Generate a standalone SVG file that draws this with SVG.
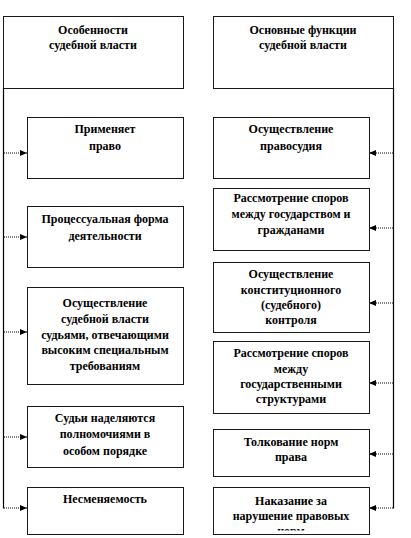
<svg xmlns="http://www.w3.org/2000/svg" width="411" height="538" viewBox="0 0 411 538">
<style>
.box{fill:#fff;stroke:#1a1a1a;stroke-width:1}
.t{font-family:'Liberation Serif','Times New Roman','DejaVu Serif',serif;font-weight:700;font-size:12px;fill:#000;text-anchor:middle}
.trunk{stroke:#000;stroke-width:1.2;fill:none}
.con{stroke:#000;stroke-width:1;stroke-dasharray:1,1;fill:none}
</style>
<defs>
<marker id="ah" markerWidth="8" markerHeight="6" refX="7" refY="3" orient="auto" markerUnits="userSpaceOnUse">
<path d="M0,0 L7,3 L0,6 Z" fill="#000"/>
</marker>
<clipPath id="clip6"><rect x="213" y="487" width="156" height="43.5"/></clipPath>
</defs>
<rect width="411" height="538" fill="#fff"/>

<g id="connectors">
<path class="trunk" d="M3.5,88 V508.5"/>
<path class="trunk" d="M393.5,88 V508.5"/>
<line class="con" x1="4" y1="153" x2="27" y2="153" marker-end="url(#ah)"/>
<line class="con" x1="4" y1="237" x2="27" y2="237" marker-end="url(#ah)"/>
<line class="con" x1="4" y1="332" x2="27" y2="332" marker-end="url(#ah)"/>
<line class="con" x1="4" y1="437" x2="27" y2="437" marker-end="url(#ah)"/>
<line class="con" x1="4" y1="508" x2="27" y2="508" marker-end="url(#ah)"/>
<line class="con" x1="393" y1="153" x2="369" y2="153" marker-end="url(#ah)"/>
<line class="con" x1="393" y1="228" x2="369" y2="228" marker-end="url(#ah)"/>
<line class="con" x1="393" y1="303" x2="369" y2="303" marker-end="url(#ah)"/>
<line class="con" x1="393" y1="383" x2="369" y2="383" marker-end="url(#ah)"/>
<line class="con" x1="393" y1="454" x2="369" y2="454" marker-end="url(#ah)"/>
<line class="con" x1="393" y1="508" x2="369" y2="508" marker-end="url(#ah)"/>
</g>

<g id="hdr-left">
<rect class="box" x="3.5" y="16.5" width="180" height="72"/>
<text class="t" x="93" y="34">Особенности</text>
<text class="t" x="93" y="49">судебной власти</text>
</g>
<g id="hdr-right">
<rect class="box" x="213.5" y="16.5" width="180" height="72"/>
<text class="t" x="303" y="34">Основные функции</text>
<text class="t" x="303" y="49">судебной власти</text>
</g>

<g id="l1">
<rect class="box" x="27.5" y="117.5" width="156" height="61"/>
<text class="t" x="105" y="133">Применяет</text>
<text class="t" x="105" y="150">право</text>
</g>
<g id="l2">
<rect class="box" x="27.5" y="206.5" width="156" height="61"/>
<text class="t" x="105" y="223">Процессуальная форма</text>
<text class="t" x="105" y="240">деятельности</text>
</g>
<g id="l3">
<rect class="box" x="27.5" y="287.5" width="156" height="97"/>
<text class="t" x="105" y="307">Осуществление</text>
<text class="t" x="105" y="323">судебной власти</text>
<text class="t" x="105" y="339">судьями, отвечающими</text>
<text class="t" x="105" y="354">высоким специальным</text>
<text class="t" x="105" y="370">требованиям</text>
</g>
<g id="l4">
<rect class="box" x="27.5" y="406.5" width="156" height="61"/>
<text class="t" x="105" y="422">Судьи наделяются</text>
<text class="t" x="105" y="438">полномочиями в</text>
<text class="t" x="105" y="455">особом порядке</text>
</g>
<g id="l5">
<rect class="box" x="27.5" y="487.5" width="156" height="47"/>
<text class="t" x="105" y="503">Несменяемость</text>
</g>

<g id="r1">
<rect class="box" x="213.5" y="117.5" width="156" height="61"/>
<text class="t" x="291" y="133">Осуществление</text>
<text class="t" x="291" y="150">правосудия</text>
</g>
<g id="r2">
<rect class="box" x="213.5" y="188.5" width="156" height="62"/>
<text class="t" x="291" y="202">Рассмотрение споров</text>
<text class="t" x="291" y="218">между государством и</text>
<text class="t" x="291" y="234">гражданами</text>
</g>
<g id="r3">
<rect class="box" x="213.5" y="262.5" width="156" height="70"/>
<text class="t" x="291" y="278">Осуществление</text>
<text class="t" x="291" y="294">конституционного</text>
<text class="t" x="291" y="309">(судебного)</text>
<text class="t" x="291" y="324">контроля</text>
</g>
<g id="r4">
<rect class="box" x="213.5" y="341.5" width="156" height="72"/>
<text class="t" x="291" y="357">Рассмотрение споров</text>
<text class="t" x="291" y="373">между</text>
<text class="t" x="291" y="388">государственными</text>
<text class="t" x="291" y="403">структурами</text>
</g>
<g id="r5">
<rect class="box" x="213.5" y="429.5" width="156" height="47"/>
<text class="t" x="291" y="446">Толкование норм</text>
<text class="t" x="291" y="461">права</text>
</g>
<g id="r6">
<rect class="box" x="213.5" y="487.5" width="156" height="47"/>
<text class="t" x="291" y="505">Наказание за</text>
<text class="t" x="291" y="520">нарушение правовых</text>
<text class="t" x="291" y="535" clip-path="url(#clip6)">норм</text>
</g>
</svg>
